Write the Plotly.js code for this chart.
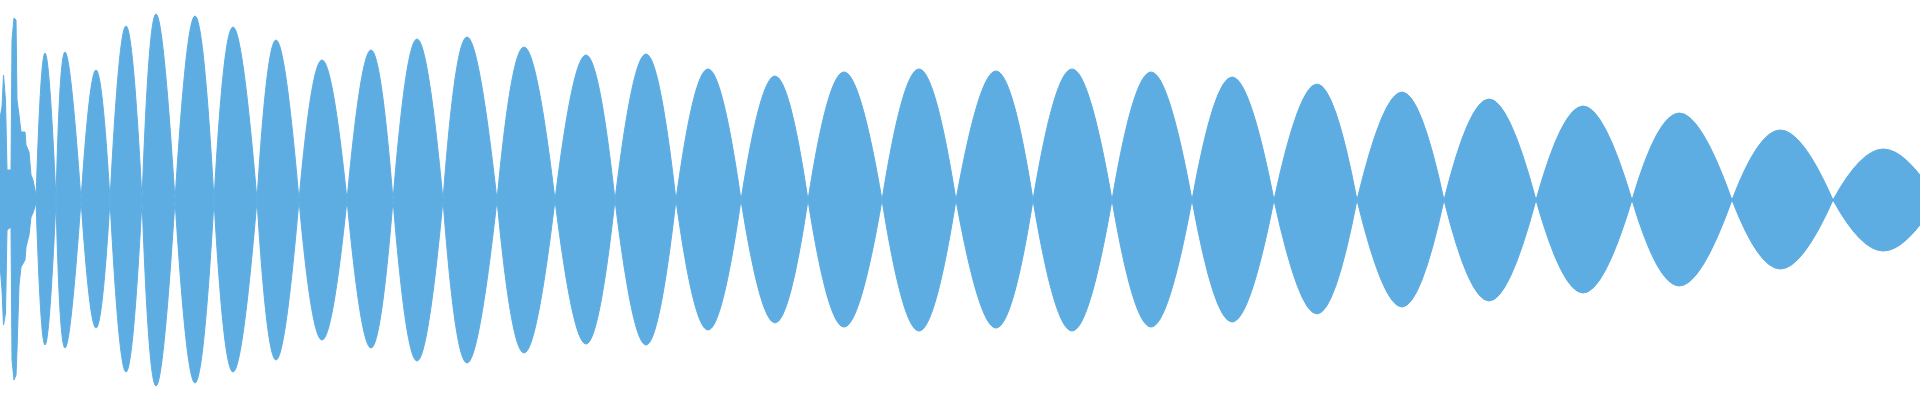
<!DOCTYPE html>
<html>
<head>
<meta charset="utf-8">
<script src="https://cdn.plot.ly/plotly-3.0.1.min.js"></script>
<style>
  html, body { margin: 0; padding: 0; background: #ffffff; }
  #chart { width: 1920px; height: 400px; }
</style>
</head>
<body>
<div id="chart"></div>
<script>
// ---- Data (time axis in arbitrary units, amplitude normalised to ±1) ----

// Irregular attack at the very start: envelope samples
const headTime   = [0, 2, 3.5, 5.5, 7, 11, 12, 14, 16, 17, 19, 21, 25, 26, 29, 31, 33, 36];
const headUpper  = [0.41, 0.465, 0.625, 0.50, 0.15, 0.15, 0.80, 0.91, 0.90, 0.50, 0.425, 0.34, 0.34, 0.275, 0.24, 0.125, 0.10, 0.025];
const headLower  = [0.325, 0.45, 0.625, 0.565, 0.15, 0.135, 0.80, 0.90, 0.875, 0.75, 0.425, 0.335, 0.30, 0.235, 0.175, 0.085, 0.065, 0.015];

// Beat lobes: zero crossings of the envelope
const crossings = [36, 56, 81, 110, 142, 175, 214, 257, 299, 347, 393, 443, 497, 555, 615, 676,
                   741, 808, 882, 956, 1033, 1112, 1192, 1274, 1357, 1444, 1536, 1632, 1732, 1833, 1937];
// Time of each lobe's maximum
const peakTime  = [45, 65, 96, 126, 156, 195, 233, 276, 322, 371, 417, 467, 524, 586, 646,
                   708, 775, 844, 919, 996, 1072, 1151, 1232, 1317, 1402, 1489, 1583, 1679, 1780, 1883];
// Positive and negative peak amplitude of each lobe
const peakUpper = [0.735, 0.74, 0.65, 0.87, 0.93, 0.92, 0.865, 0.80, 0.70, 0.75, 0.805, 0.815, 0.765, 0.725, 0.73,
                   0.655, 0.62, 0.64, 0.655, 0.645, 0.655, 0.64, 0.615, 0.58, 0.54, 0.505, 0.47, 0.435, 0.35, 0.255];
const peakLower = [0.725, 0.74, 0.64, 0.86, 0.93, 0.915, 0.86, 0.80, 0.70, 0.74, 0.805, 0.815, 0.765, 0.72, 0.725,
                   0.65, 0.615, 0.635, 0.655, 0.64, 0.655, 0.635, 0.61, 0.57, 0.535, 0.505, 0.465, 0.43, 0.345, 0.255];

const waveColor = '#5dade2';

// ---- Build traces ----
// Head: closed envelope polygon
const headX = headTime.concat(headTime.slice().reverse());
const headY = headUpper.concat(headLower.slice().reverse().map(v => -v));

// Lobes: every half-lobe is its own closed segment (gaps separate them)
const lobeX = [], lobeY = [];
for (let i = 0; i < peakTime.length; i++) {
  lobeX.push(crossings[i], peakTime[i], crossings[i + 1], null);
  lobeY.push(0, peakUpper[i], 0, null);
  lobeX.push(crossings[i], peakTime[i], crossings[i + 1], null);
  lobeY.push(0, -peakLower[i], 0, null);
}

const traces = [
  {
    type: 'scatter', mode: 'lines', x: headX, y: headY,
    fill: 'toself', fillcolor: waveColor,
    line: { color: waveColor, width: 1 }, hoverinfo: 'skip'
  },
  {
    type: 'scatter', mode: 'lines', x: lobeX, y: lobeY,
    fill: 'toself', fillcolor: waveColor, connectgaps: false,
    line: { color: waveColor, width: 1, shape: 'spline', smoothing: 1.3 }, hoverinfo: 'skip'
  },
  {
    type: 'scatter', mode: 'lines',
    x: [crossings[0], crossings[crossings.length - 1]], y: [0, 0],
    line: { color: waveColor, width: 2 }, hoverinfo: 'skip'
  }
];

const layout = {
  width: 1920, height: 400,
  margin: { l: 0, r: 0, t: 0, b: 0, pad: 0 },
  paper_bgcolor: '#ffffff', plot_bgcolor: '#ffffff',
  showlegend: false,
  xaxis: { visible: false, range: [0, 1920], fixedrange: true },
  yaxis: { visible: false, range: [-1, 1], fixedrange: true }
};

Plotly.newPlot('chart', traces, layout, { displayModeBar: false, staticPlot: true });
</script>
</body>
</html>
